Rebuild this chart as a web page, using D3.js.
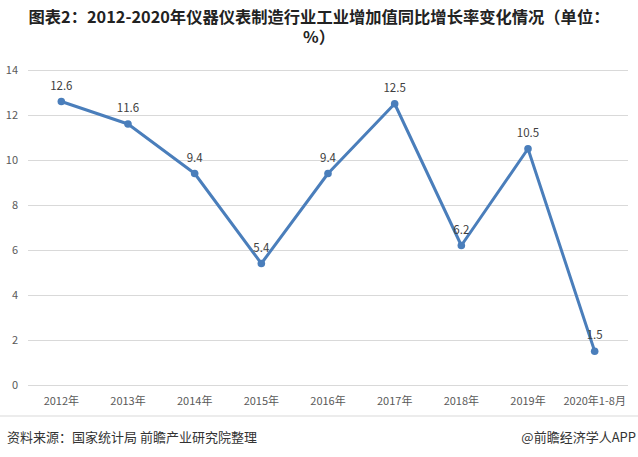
<!DOCTYPE html>
<html><head><meta charset="utf-8">
<script src="https://cdn.jsdelivr.net/npm/d3@7"></script>
<style>body{margin:0;background:#fff}svg{display:block}</style>
</head><body><svg id="c" width="638" height="457"></svg>
<script>
const categories = ["2012年","2013年","2014年","2015年","2016年","2017年","2018年","2019年","2020年1-8月"];
const values = [12.6, 11.6, 9.4, 5.4, 9.4, 12.5, 6.2, 10.5, 1.5];
const yTicks = [0, 2, 4, 6, 8, 10, 12, 14];
const titleLines = ["图表2：2012-2020年仪器仪表制造行业工业增加值同比增长率变化情况（单位：", "%）"];
const sourceText = "资料来源：国家统计局 前瞻产业研究院整理";
const brandText = "@前瞻经济学人APP";

const svg = d3.select("#c");
const font = "'Noto Sans CJK SC','Microsoft YaHei',sans-serif";
const x = d3.scaleBand().domain(categories).range([28, 628]);
const y = d3.scaleLinear().domain([0, 14]).range([385, 70]);

svg.append("g").selectAll("text").data(titleLines).join("text")
  .attr("x", 319).attr("y", (d,i)=>23 + i*20)
  .attr("text-anchor","middle").attr("font-family",font).attr("font-weight","bold")
  .attr("font-size",16.3).attr("fill","#222").text(d=>d);

const yAxis = svg.append("g").attr("transform","translate(28,0)")
  .call(d3.axisLeft(y).tickValues(yTicks).tickSize(-600).tickPadding(10).tickFormat(d3.format("d")));
yAxis.select(".domain").remove();
yAxis.selectAll("line").attr("stroke","#d9d9d9");
yAxis.selectAll("text").attr("font-family",font).attr("font-size",11).attr("fill","#595959");

const xAxis = svg.append("g").attr("transform","translate(0,385)")
  .call(d3.axisBottom(x).tickSize(0).tickPadding(12));
xAxis.select(".domain").remove();
xAxis.selectAll("text").attr("font-family",font).attr("font-size",11).attr("fill","#595959");

const cx = d => x(d) + x.bandwidth()/2;
const pts = categories.map((c,i)=>({c, v: values[i]}));
svg.append("path").datum(pts)
  .attr("d", d3.line().x(d=>cx(d.c)).y(d=>y(d.v)))
  .attr("fill","none").attr("stroke","#4a7ebb").attr("stroke-width",3).attr("stroke-linejoin","round");
svg.append("g").selectAll("circle").data(pts).join("circle")
  .attr("cx",d=>cx(d.c)).attr("cy",d=>y(d.v)).attr("r",3.8).attr("fill","#4a7ebb");
svg.append("g").selectAll("text").data(pts).join("text")
  .attr("x",d=>cx(d.c)).attr("y",d=>y(d.v)-12)
  .attr("text-anchor","middle").attr("font-family",font).attr("font-size",11.5).attr("fill","#404040")
  .text(d=>d.v.toFixed(1));

svg.append("line").attr("x1",0).attr("x2",638).attr("y1",416).attr("y2",416).attr("stroke","#d9d9d9");
svg.append("text").attr("x",7).attr("y",442).attr("font-family",font).attr("font-size",13).attr("fill","#333").text(sourceText);
svg.append("text").attr("x",636).attr("y",442).attr("text-anchor","end").attr("font-family",font).attr("font-size",13).attr("fill","#333").text(brandText);
</script></body></html>
